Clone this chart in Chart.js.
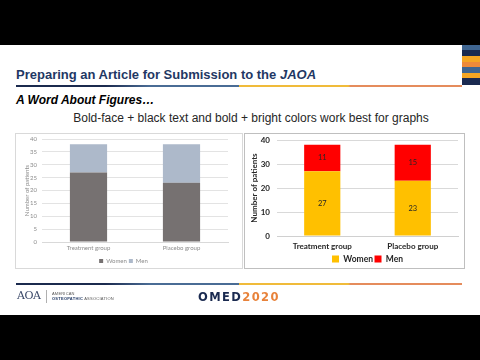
<!DOCTYPE html>
<html>
<head>
<meta charset="utf-8">
<script src="https://cdn.jsdelivr.net/npm/chart.js@4.4.1/dist/chart.umd.min.js"></script>
<style>
  html, body { margin: 0; padding: 0; }
  body { width: 480px; height: 360px; position: relative; overflow: hidden; background: #fff; font-family: "Liberation Sans", Arial, sans-serif; }
  .abs { position: absolute; }
  .blk { left: 0; width: 480px; background: #000; }
  .rule { left: 16px; width: 446px; height: 2px;
    background: linear-gradient(to right, #1b2a4e 0%, #1b2a4e 20%, #4a6c95 30%, #4a6c95 50%, #f0bb3a 50%, #f0bb3a 74.5%, #e58c5c 75%, #e58c5c 100%); }
  #title { left: 16px; top: 68px; font-size: 13px; line-height: 14px; font-weight: bold; color: #1f3864; white-space: nowrap; }
  #sub { left: 16px; top: 94px; font-size: 12px; line-height: 13px; font-weight: bold; font-style: italic; color: #000; white-space: nowrap; }
  #body { left: 0; width: 502px; top: 112px; font-size: 12px; line-height: 13px; color: #262626; text-align: center; white-space: nowrap; }
  canvas { position: absolute; }
  #c1 { left: 15px; top: 133px; outline: 1px solid #d9d9d9; outline-offset: -1px; }
  #c2 { left: 244px; top: 133px; outline: 1px solid #bfbfbf; outline-offset: -1px; }
  .stripe { left: 462px; width: 18px; }
</style>
</head>
<body>
<div class="abs blk" style="top:0;height:45px"></div>
<div class="abs stripe" style="top:45px;height:5px;background:#3f6590"></div>
<div class="abs stripe" style="top:50px;height:6px;background:#1a2a50"></div>
<div class="abs stripe" style="top:56px;height:6px;background:#f5a623"></div>
<div class="abs stripe" style="top:62px;height:5px;background:#ee8a3a"></div>
<div class="abs stripe" style="top:67px;height:6px;background:#3f6590"></div>
<div class="abs stripe" style="top:73px;height:5px;background:#f5a623"></div>
<div class="abs stripe" style="top:78px;height:7px;background:#1a2a50"></div>

<div id="title" class="abs">Preparing an Article for Submission to the <i>JAOA</i></div>
<div class="abs rule" style="top:85px"></div>
<div id="sub" class="abs">A Word About Figures…</div>
<div id="body" class="abs">Bold-face + black text and bold + bright colors work best for graphs</div>

<canvas id="c1" width="228" height="136"></canvas>
<canvas id="c2" width="221" height="136"></canvas>

<div class="abs rule" style="top:283px"></div>
<div class="abs" style="left:17px;top:289px;font-family:'DejaVu Serif',serif;font-size:11px;line-height:13px;color:#3c4a6a;letter-spacing:-0.5px">AOA</div>
<div class="abs" style="left:46px;top:290px;width:1px;height:13px;background:#b0b0b0"></div>
<div class="abs" style="left:52px;top:291px;font-size:4px;line-height:5px;color:#555;letter-spacing:0.2px;white-space:nowrap">AMERICAN</div>
<div class="abs" style="left:52px;top:296px;font-size:4px;line-height:5px;color:#555;letter-spacing:0.25px;white-space:nowrap"><b style="color:#1f3864">OSTEOPATHIC</b> ASSOCIATION</div>
<div class="abs" style="left:198px;top:290px;font-family:'DejaVu Sans',sans-serif;font-weight:bold;font-size:11.5px;line-height:14px;letter-spacing:1.4px;white-space:nowrap"><span style="color:#1a2a50">OMED</span><span style="color:#e8823a">2020</span></div>
<div class="abs blk" style="top:315px;height:45px"></div>

<script>
// ---- data ----
const categories = ['Treatment group', 'Placebo group'];
const seriesNames = ['Women', 'Men'];
const womenCounts = [27, 23];
const menCounts = [11, 15];
const leftAxisMax = 40, leftAxisStep = 5;
const rightAxisMax = 40, rightAxisStep = 10;
const axisTitle = 'Number of patients';

Chart.defaults.font.family = 'Lato, "Liberation Sans", sans-serif';
Chart.defaults.devicePixelRatio = 1;
Chart.defaults.animation = false;

const barValueLabels = {
  id: 'barValueLabels',
  afterDatasetsDraw(chart) {
    const ctx = chart.ctx;
    ctx.save();
    ctx.font = '7.5px Lato, "Liberation Sans", sans-serif';
    ctx.fillStyle = '#262626';
    ctx.textAlign = 'center';
    ctx.textBaseline = 'middle';
    chart.data.datasets.forEach((ds, i) => {
      chart.getDatasetMeta(i).data.forEach((bar, j) => {
        const p = bar.getProps(['x', 'y', 'base'], true);
        ctx.fillText(String(ds.data[j]), p.x, (p.y + p.base) / 2);
      });
    });
    ctx.restore();
  }
};

// ---- left (poor) chart ----
new Chart(document.getElementById('c1'), {
  type: 'bar',
  data: {
    labels: categories,
    datasets: [
      { label: seriesNames[0], data: womenCounts, backgroundColor: '#767171' },
      { label: seriesNames[1], data: menCounts, backgroundColor: '#adb9ca' }
    ]
  },
  options: {
    responsive: false,
    layout: { padding: { left: 4, top: 0, right: 15, bottom: -5 } },
    datasets: { bar: { categoryPercentage: 0.8, barPercentage: 0.5 } },
    scales: {
      x: {
        stacked: true,
        grid: { display: false, drawTicks: false },
        border: { color: '#d9d9d9' },
        ticks: { font: { size: 6 }, color: '#8c8c8c', padding: 2.4 },
        afterFit(s) { s.height = 14; }
      },
      y: {
        stacked: true, min: 0, max: leftAxisMax,
        ticks: { stepSize: leftAxisStep, font: { size: 6 }, color: '#8c8c8c', padding: 5 },
        grid: { color: '#e3e3e3', drawTicks: false },
        border: { display: false },
        title: { display: true, text: axisTitle, font: { size: 6 }, color: '#8c8c8c', padding: { top: 4.4, bottom: 0 } },
        afterFit(s) { s.width = 23; s.paddingTop = 6; }
      }
    },
    plugins: {
      legend: {
        position: 'bottom',
        labels: { boxWidth: 4, boxHeight: 4, font: { size: 6 }, color: '#8c8c8c', padding: 2 }
      },
      tooltip: { enabled: false }
    }
  }
});

// ---- right (good) chart ----
new Chart(document.getElementById('c2'), {
  type: 'bar',
  data: {
    labels: categories,
    datasets: [
      { label: seriesNames[0], data: womenCounts, backgroundColor: '#ffc000' },
      { label: seriesNames[1], data: menCounts, backgroundColor: '#ff0000' }
    ]
  },
  plugins: [barValueLabels],
  options: {
    responsive: false,
    layout: { padding: { left: 3, top: 0, right: 7, bottom: -4.25 } },
    datasets: { bar: { categoryPercentage: 0.8, barPercentage: 0.5 } },
    scales: {
      x: {
        stacked: true,
        grid: { display: false, drawTicks: false },
        border: { color: '#d0d0d0' },
        ticks: { font: { size: 8, weight: 'bold' }, color: '#262626', padding: 6 },
        afterFit(s) { s.height = 17.25; }
      },
      y: {
        stacked: true, min: 0, max: rightAxisMax,
        ticks: { stepSize: rightAxisStep, font: { size: 8, weight: 'bold' }, color: '#262626', padding: 7 },
        grid: { color: '#d9d9d9', drawTicks: false },
        border: { display: false },
        title: { display: true, text: axisTitle, font: { size: 8, weight: 'bold' }, color: '#262626', padding: { top: 3, bottom: 0 } },
        afterFit(s) { s.width = 30; s.paddingTop = 7; }
      }
    },
    plugins: {
      legend: {
        position: 'bottom',
        fullSize: false,
        labels: { boxWidth: 7, boxHeight: 7, font: { size: 8.5, weight: 'bold' }, color: '#262626', padding: 1.5 }
      },
      tooltip: { enabled: false }
    }
  }
});
</script>
</body>
</html>
